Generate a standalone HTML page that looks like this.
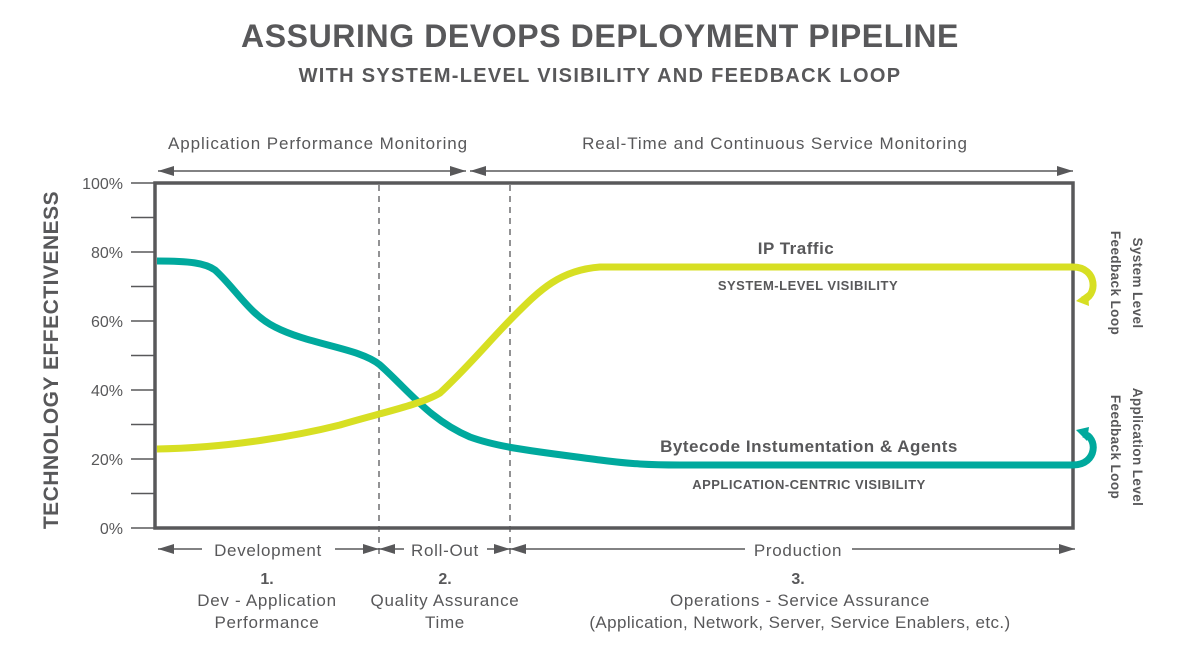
<!DOCTYPE html>
<html><head><meta charset="utf-8"><style>
body{margin:0;background:#fff;}
svg{display:block;font-family:"Liberation Sans",sans-serif;}
</style></head><body>
<svg width="1200" height="653" viewBox="0 0 1200 653">
<defs>
<marker id="ah" markerWidth="16" markerHeight="12" refX="16" refY="5" orient="auto-start-reverse" markerUnits="userSpaceOnUse"><path d="M0,0 L16,5 L0,10 Z" fill="#58585a"/></marker>
</defs>
<g fill="#58585a" text-anchor="middle" font-weight="bold">
<text x="600" y="47" font-size="32" letter-spacing="0.6">ASSURING DEVOPS DEPLOYMENT PIPELINE</text>
<text x="600" y="82" font-size="20" letter-spacing="1.3">WITH SYSTEM-LEVEL VISIBILITY AND FEEDBACK LOOP</text>
<text transform="translate(58,360) rotate(-90)" font-size="21" letter-spacing="0.5">TECHNOLOGY EFFECTIVENESS</text>
</g>
<g fill="#58585a" font-size="17" text-anchor="middle" letter-spacing="0.9">
<text x="318" y="149">Application Performance Monitoring</text>
<text x="775" y="149">Real-Time and Continuous Service Monitoring</text>
</g>
<g stroke="#58585a" stroke-width="1.5" fill="none">
<line x1="158" y1="171" x2="466" y2="171" marker-start="url(#ah)" marker-end="url(#ah)"/>
<line x1="470" y1="171" x2="1073" y2="171" marker-start="url(#ah)" marker-end="url(#ah)"/>
</g>
<g stroke="#58585a" stroke-width="1.5">
<line x1="131" y1="183" x2="155" y2="183"/><line x1="131" y1="217.5" x2="155" y2="217.5"/>
<line x1="131" y1="252" x2="155" y2="252"/><line x1="131" y1="286.5" x2="155" y2="286.5"/>
<line x1="131" y1="321" x2="155" y2="321"/><line x1="131" y1="355.5" x2="155" y2="355.5"/>
<line x1="131" y1="390" x2="155" y2="390"/><line x1="131" y1="424.5" x2="155" y2="424.5"/>
<line x1="131" y1="459" x2="155" y2="459"/><line x1="131" y1="493.5" x2="155" y2="493.5"/>
<line x1="131" y1="528" x2="155" y2="528"/>
</g>
<g fill="#58585a" font-size="16" text-anchor="end">
<text x="123" y="189">100%</text><text x="123" y="258">80%</text><text x="123" y="327">60%</text>
<text x="123" y="396">40%</text><text x="123" y="465">20%</text><text x="123" y="534">0%</text>
</g>
<g stroke="#58585a" stroke-width="1.3" stroke-dasharray="6,5">
<line x1="379" y1="185" x2="379" y2="556"/><line x1="510" y1="185" x2="510" y2="556"/>
</g>
<rect x="155" y="183" width="918" height="345" fill="none" stroke="#58585a" stroke-width="3.5"/>
<g fill="none" stroke-width="7" stroke-linecap="butt">
<path d="M157,261 C190,261 205,263 215,270 C235,288 250,315 275,327 C310,345 360,348 380,365 C410,392 430,420 470,437 C500,448 540,452 600,460 C630,464 650,465 680,465 L1073,465" stroke="#00a99d"/>
<path d="M157,449 C230,448 300,435 340,425 C380,413 420,405 440,393 C470,365 490,340 515,315 C540,290 560,270 600,267 L1073,267" stroke="#d7df23"/>
<path d="M1073,267 C1098,267 1098,297 1082,300" stroke="#d7df23"/>
<path d="M1073,465 C1098,465 1098,436 1083,434" stroke="#00a99d"/>
</g>
<path d="M1076,301 L1088,292 L1089,306 Z" fill="#d7df23"/>
<path d="M1076,430 L1089,427 L1087,441 Z" fill="#00a99d"/>
<g fill="#58585a" font-weight="bold" text-anchor="middle">
<text x="796" y="254" font-size="17" letter-spacing="0.5">IP Traffic</text>
<text x="808" y="290" font-size="13" letter-spacing="0.5">SYSTEM-LEVEL VISIBILITY</text>
<text x="809" y="452" font-size="17" letter-spacing="0.5">Bytecode Instumentation &amp; Agents</text>
<text x="809" y="489" font-size="13" letter-spacing="0.5">APPLICATION-CENTRIC VISIBILITY</text>
<text x="267" y="584" font-size="16">1.</text>
<text x="445" y="584" font-size="16">2.</text>
<text x="798" y="584" font-size="16">3.</text>
</g>
<g fill="#58585a" font-weight="bold" font-size="13.5" text-anchor="middle" letter-spacing="0.4">
<text transform="translate(1133,283) rotate(90)">System Level</text>
<text transform="translate(1111,283) rotate(90)">Feedback Loop</text>
<text transform="translate(1133,447) rotate(90)">Application Level</text>
<text transform="translate(1111,447) rotate(90)">Feedback Loop</text>
</g>
<g stroke="#58585a" stroke-width="1.5" fill="none">
<line x1="158" y1="549" x2="202" y2="549" marker-start="url(#ah)"/>
<line x1="335" y1="549" x2="379" y2="549" marker-end="url(#ah)"/>
<line x1="379" y1="549" x2="404" y2="549" marker-start="url(#ah)"/>
<line x1="487" y1="549" x2="510" y2="549" marker-end="url(#ah)"/>
<line x1="510" y1="549" x2="745" y2="549" marker-start="url(#ah)"/>
<line x1="852" y1="549" x2="1075" y2="549" marker-end="url(#ah)"/>
</g>
<g fill="#58585a" font-size="17" text-anchor="middle" letter-spacing="0.7">
<text x="268" y="556">Development</text>
<text x="445" y="556">Roll-Out</text>
<text x="798" y="556">Production</text>
<text x="267" y="606">Dev - Application</text>
<text x="267" y="628">Performance</text>
<text x="445" y="606">Quality Assurance</text>
<text x="445" y="628">Time</text>
<text x="800" y="606">Operations - Service Assurance</text>
<text x="800" y="628" letter-spacing="0.4">(Application, Network, Server, Service Enablers, etc.)</text>
</g>
</svg>
</body></html>
